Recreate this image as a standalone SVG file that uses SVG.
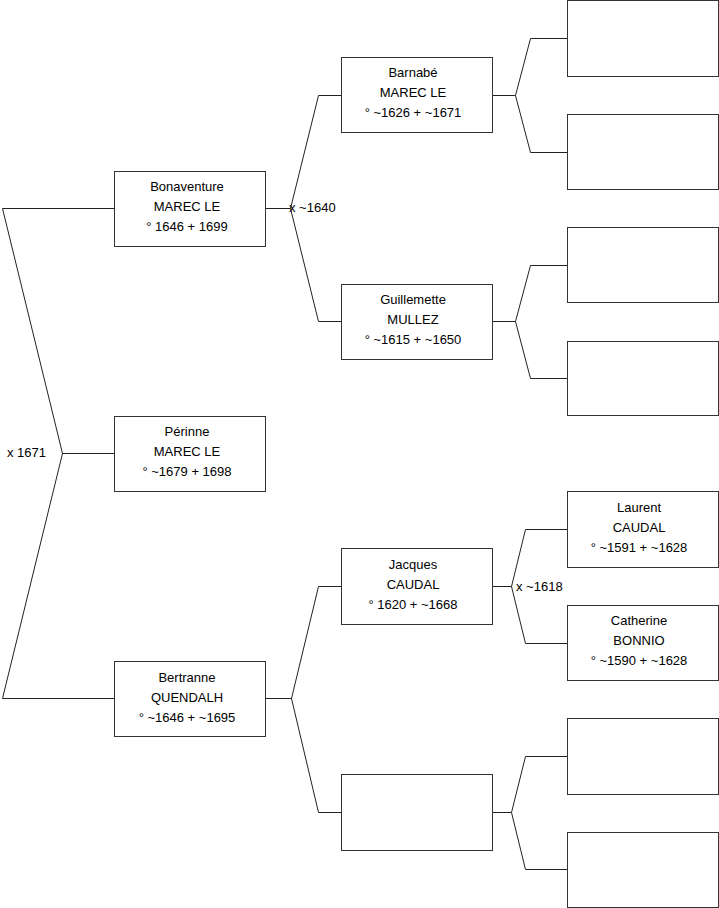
<svg xmlns="http://www.w3.org/2000/svg" width="719" height="908" viewBox="0 0 719 908">
<style>
.box{fill:#fff;stroke:#333;stroke-width:1}
.c{fill:none;stroke:#222;stroke-width:1}
text{font-family:"Liberation Sans",Arial,sans-serif;font-size:13px;fill:#000}
.m{text-anchor:middle}
</style>
<rect x="0" y="0" width="719" height="908" fill="#fff"/>
<g id="connectors">
<polyline class="c" points="114.5,208.5 2.5,208.5 62.5,453.5 2.5,698.5 114.5,698.5"/>
<line class="c" x1="62.5" y1="453.5" x2="114.5" y2="453.5"/>
<polyline class="c" points="265.5,208.5 290.5,208.5"/>
<polyline class="c" points="341.5,95.5 318.5,95.5 290.5,208.5 318.5,321.5 341.5,321.5"/>
<polyline class="c" points="492.5,95.5 515.5,95.5"/>
<polyline class="c" points="567.5,38.5 530.5,38.5 515.5,95.5 530.5,152.5 567.5,152.5"/>
<polyline class="c" points="492.5,321.5 515.5,321.5"/>
<polyline class="c" points="567.5,265.5 530.5,265.5 515.5,321.5 530.5,378.5 567.5,378.5"/>
<polyline class="c" points="492.5,586.5 511.5,586.5"/>
<polyline class="c" points="567.5,529.5 525.5,529.5 511.5,586.5 525.5,643.5 567.5,643.5"/>
<polyline class="c" points="265.5,698.5 291.5,698.5"/>
<polyline class="c" points="341.5,586.5 318.5,586.5 291.5,698.5 318.5,812.5 341.5,812.5"/>
<polyline class="c" points="492.5,812.5 511.5,812.5"/>
<polyline class="c" points="567.5,756.5 525.5,756.5 511.5,812.5 525.5,869.5 567.5,869.5"/>
<text x="7" y="457">x 1671</text>
<text x="289" y="212">x ~1640</text>
<text x="516" y="591">x ~1618</text>
</g>
<g id="bonaventure">
<rect class="box" x="114.5" y="171.5" width="151" height="75"/>
<text class="m" x="187" y="191">Bonaventure</text>
<text class="m" x="187" y="211">MAREC LE</text>
<text class="m" x="187" y="231">° 1646 + 1699</text>
</g>
<g id="perinne">
<rect class="box" x="114.5" y="416.5" width="151" height="75"/>
<text class="m" x="187" y="436">Périnne</text>
<text class="m" x="187" y="456">MAREC LE</text>
<text class="m" x="187" y="476">° ~1679 + 1698</text>
</g>
<g id="bertranne">
<rect class="box" x="114.5" y="661.5" width="151" height="75"/>
<text class="m" x="187" y="682">Bertranne</text>
<text class="m" x="187" y="702">QUENDALH</text>
<text class="m" x="187" y="722">° ~1646 + ~1695</text>
</g>
<g id="barnabe">
<rect class="box" x="341.5" y="57.5" width="151" height="75"/>
<text class="m" x="413" y="77">Barnabé</text>
<text class="m" x="413" y="97">MAREC LE</text>
<text class="m" x="413" y="117">° ~1626 + ~1671</text>
</g>
<g id="guillemette">
<rect class="box" x="341.5" y="284.5" width="151" height="75"/>
<text class="m" x="413" y="304">Guillemette</text>
<text class="m" x="413" y="324">MULLEZ</text>
<text class="m" x="413" y="344">° ~1615 + ~1650</text>
</g>
<g id="jacques">
<rect class="box" x="341.5" y="548.5" width="151" height="76"/>
<text class="m" x="413" y="569">Jacques</text>
<text class="m" x="413" y="589">CAUDAL</text>
<text class="m" x="413" y="609">° 1620 + ~1668</text>
</g>
<g id="empty2">
<rect class="box" x="341.5" y="774.5" width="151" height="76"/>
</g>
<g id="empty3a"><rect class="box" x="567.5" y="0.5" width="151" height="76"/></g>
<g id="empty3b"><rect class="box" x="567.5" y="114.5" width="151" height="75"/></g>
<g id="empty3c"><rect class="box" x="567.5" y="227.5" width="151" height="75"/></g>
<g id="empty3d"><rect class="box" x="567.5" y="341.5" width="151" height="74"/></g>
<g id="laurent">
<rect class="box" x="567.5" y="491.5" width="151" height="76"/>
<text class="m" x="639" y="512">Laurent</text>
<text class="m" x="639" y="532">CAUDAL</text>
<text class="m" x="639" y="552">° ~1591 + ~1628</text>
</g>
<g id="catherine">
<rect class="box" x="567.5" y="605.5" width="151" height="75"/>
<text class="m" x="639" y="625">Catherine</text>
<text class="m" x="639" y="645">BONNIO</text>
<text class="m" x="639" y="665">° ~1590 + ~1628</text>
</g>
<g id="empty3g"><rect class="box" x="567.5" y="718.5" width="151" height="76"/></g>
<g id="empty3h"><rect class="box" x="567.5" y="832.5" width="151" height="75"/></g>
</svg>
